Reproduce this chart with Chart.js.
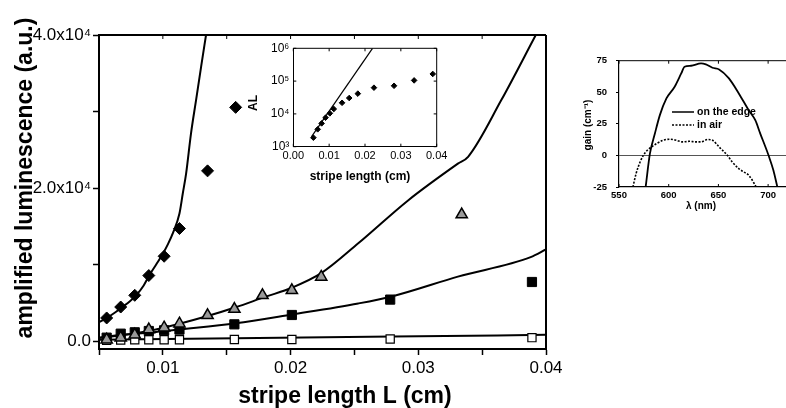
<!DOCTYPE html>
<html>
<head>
<meta charset="utf-8">
<script src="https://cdn.jsdelivr.net/npm/chart.js@4.4.0/dist/chart.umd.min.js"></script>
<style>
    body { margin: 0; width: 786px; height: 408px; overflow: hidden; background: #fff; position: relative; }
    canvas { position: absolute; }
</style>
</head>
<body>
<canvas id="principal" width="580" height="408" style="left:0;top:0"></canvas>
<canvas id="recuadro" width="220" height="160" style="left:240px;top:30px"></canvas>
<canvas id="ganancia" width="240" height="190" style="left:560px;top:30px"></canvas>
<script>
// ---- gráfico principal: luminiscencia amplificada vs longitud de franja ----
let xDiamantes = [0.0056, 0.0067, 0.0078, 0.0089, 0.0101, 0.0113, 0.0135, 0.0157];
let yDiamantes = [3050, 4480, 6010, 8590, 11110, 14730, 22260, 30550];
let xTriangulos = [0.0056, 0.0067, 0.0078, 0.0089, 0.0101, 0.0113, 0.0135, 0.0156, 0.0178, 0.0201, 0.0224, 0.0334];
let yTriangulos = [220, 480, 850, 1530, 1790, 2310, 3400, 4220, 6010, 6670, 8410, 16560];
let xCuadrados = [0.0056, 0.0067, 0.0078, 0.0089, 0.0101, 0.0113, 0.0156, 0.0201, 0.0278, 0.0389];
let yCuadrados = [480, 1000, 1180, 1350, 1440, 1530, 2220, 3440, 5450, 7750];
let yCuadradosVacios = [150, 180, 200, 200, 200, 200, 250, 250, 300, 480];

// curvas de ajuste
let xAjusteDiamantes = [0.005, 0.0056, 0.0062, 0.0068, 0.0074, 0.0079, 0.0085, 0.009, 0.0095, 0.01, 0.0104, 0.0108, 0.0113, 0.01156, 0.01182, 0.0122, 0.0126, 0.013, 0.01338];
let yAjusteDiamantes = [2500, 3050, 3700, 4450, 5200, 6000, 7300, 8800, 10100, 11450, 12700, 14200, 16700, 19300, 21900, 27100, 31500, 35900, 40000];
let xAjusteTriangulos = [0.005, 0.0068, 0.009, 0.0113, 0.0135, 0.0157, 0.018, 0.0201, 0.0224, 0.0253, 0.0292, 0.0331, 0.0339, 0.0365, 0.0392];
let yAjusteTriangulos = [450, 800, 1400, 2300, 3300, 4450, 5800, 7000, 8900, 12800, 18400, 23200, 24100, 31500, 40000];
let xAjusteCuadrados = [0.005, 0.0068, 0.009, 0.0113, 0.0157, 0.0201, 0.0253, 0.028, 0.0331, 0.0388, 0.04];
let yAjusteCuadrados = [480, 850, 1150, 1550, 2350, 3500, 4950, 5900, 8450, 11000, 12000];
let xAjusteVacios = [0.005, 0.0157, 0.028, 0.04];
let yAjusteVacios = [220, 400, 620, 850];

let ticksX = [0.005, 0.01, 0.015, 0.02, 0.025, 0.03, 0.035, 0.04];
let textosTicksX = ['', '0.01', '', '0.02', '', '0.03', '', '0.04'];
let ticksY = [0, 10000, 20000, 30000, 40000];
let textosTicksY = ['0.0', '', '2.0x10⁴', '', '4.0x10⁴'];

// ---- recuadro (escala log) ----
let xRecuadro = [0.0056, 0.0068, 0.0079, 0.009, 0.0102, 0.0113, 0.0136, 0.0156, 0.018, 0.0225, 0.0281, 0.0337, 0.0389];
let yRecuadro = [1885, 3390, 5140, 7680, 10400, 14100, 21800, 30500, 41500, 63000, 72000, 105000, 165000];
let xRectaRecuadro = [0.0051, 0.0221];
let yRectaRecuadro = [2020, 1000000];
let ticksXRecuadro = [0, 0.01, 0.02, 0.03, 0.04];
let textosXRecuadro = ['0.00', '0.01', '0.02', '0.03', '0.04'];
let ticksYRecuadro = [1000, 10000, 100000, 1000000];
let textosYRecuadro = ['10³', '10⁴', '10⁵', '10⁶'];

// ---- ganancia vs longitud de onda ----
let lambdaBorde = [576.8, 581.1, 586.1, 591.1, 597.7, 606, 612.6, 615.9, 622.5, 632.5, 637.4, 644, 650.7, 660.6, 670.5, 680.5, 687.1, 692.1, 700.4, 705.3, 709.3];
let gananciaBorde = [-25, 1.4, 17.3, 31.9, 45.1, 54.4, 64.9, 70.2, 71, 72.9, 72.1, 69.4, 68.1, 61, 49.1, 35.8, 27.9, 17.3, 0.1, -11.8, -25];
let lambdaAire = [564, 567.2, 571.2, 574.5, 578.5, 582.8, 587.8, 594.4, 601, 607.6, 614.3, 620.9, 627.5, 632.5, 639.1, 644, 650.7, 659, 663.9, 670.5, 675.5, 680.5, 687.1, 688];
let gananciaAire = [-25, -14.4, -5.2, 0.1, 4.1, 6.7, 9.4, 12, 12.8, 12, 10.7, 11.2, 10.7, 10.7, 12.6, 12, 6.7, 0.1, -5.2, -10.5, -13.1, -15.7, -23.7, -25];
let ticksLambda = [550, 600, 650, 700];
let ticksGanancia = [-25, 0, 25, 50, 75];

let fuente = "'Liberation Sans', Arial, sans-serif";

function puntos(xs, ys) {
    return xs.map((x, i) => ({ x: x, y: ys[i] }));
}

// marco, ticks internos, títulos y leyenda dibujados a mano
let pluginMarco = {
    id: 'marco',
    afterDraw(chart, args, opts) {
        let ctx = chart.ctx;
        let a = chart.chartArea;
        ctx.save();
        ctx.strokeStyle = '#000';
        ctx.lineWidth = opts.ancho;
        ctx.beginPath();
        ctx.moveTo(a.left, a.top);
        ctx.lineTo(a.right, a.top);
        if (opts.derecha) {
            ctx.moveTo(a.right, a.top);
            ctx.lineTo(a.right, a.bottom);
        }
        ctx.stroke();

        let int = opts.internos || {};
        ctx.lineWidth = 1;
        ctx.beginPath();
        chart.scales.x.ticks.forEach(t => {
            let px = chart.scales.x.getPixelForValue(t.value);
            if (int.arriba) { ctx.moveTo(px, a.top); ctx.lineTo(px, a.top + int.arriba); }
            if (int.abajo) { ctx.moveTo(px, a.bottom); ctx.lineTo(px, a.bottom - int.abajo); }
        });
        chart.scales.y.ticks.forEach(t => {
            let py = chart.scales.y.getPixelForValue(t.value);
            if (int.izquierda) { ctx.moveTo(a.left, py); ctx.lineTo(a.left + int.izquierda, py); }
            if (int.derecha) { ctx.moveTo(a.right, py); ctx.lineTo(a.right - int.derecha, py); }
        });
        ctx.stroke();

        ctx.fillStyle = '#000';
        ctx.textAlign = 'center';
        ctx.textBaseline = 'middle';
        (opts.textos || []).forEach(t => {
            ctx.save();
            ctx.translate(t.x, t.y);
            if (t.girado) ctx.rotate(-Math.PI / 2);
            ctx.font = t.fuente;
            ctx.fillText(t.texto, 0, 0);
            ctx.restore();
        });

        (opts.leyenda || []).forEach(l => {
            ctx.save();
            ctx.lineWidth = l.ancho;
            ctx.setLineDash(l.guion);
            ctx.beginPath();
            ctx.moveTo(l.x, l.y);
            ctx.lineTo(l.x + 22, l.y);
            ctx.stroke();
            ctx.setLineDash([]);
            ctx.font = 'bold 10.5px ' + fuente;
            ctx.textAlign = 'left';
            ctx.fillText(l.texto, l.x + 25, l.y);
            ctx.restore();
        });
        ctx.restore();
    }
};

function curva(xs, ys, ancho, guion) {
    return {
        data: puntos(xs, ys), showLine: true, pointRadius: 0,
        borderColor: '#000', borderWidth: ancho, borderDash: guion || [],
        cubicInterpolationMode: 'monotone', fill: false
    };
}

function marcadores(xs, ys, estilo, radio, relleno, borde) {
    return {
        data: puntos(xs, ys), showLine: false, pointStyle: estilo, pointRadius: radio,
        pointBackgroundColor: relleno, pointBorderColor: '#000', pointBorderWidth: borde, clip: false
    };
}

new Chart(document.getElementById('principal'), {
    type: 'scatter',
    data: {
        datasets: [
            marcadores(xDiamantes, yDiamantes, 'rectRot', 6, '#000', 1),
            marcadores(xTriangulos, yTriangulos, 'triangle', 6.5, '#9a9a9a', 1.5),
            marcadores(xCuadrados, yCuadrados, 'rect', 6.5, '#000', 1),
            marcadores(xCuadrados, yCuadradosVacios, 'rect', 5.8, '#fff', 1.2),
            curva(xAjusteDiamantes, yAjusteDiamantes, 2),
            curva(xAjusteTriangulos, yAjusteTriangulos, 2),
            curva(xAjusteCuadrados, yAjusteCuadrados, 2),
            curva(xAjusteVacios, yAjusteVacios, 2)
        ]
    },
    options: {
        responsive: false, animation: false,
        layout: { padding: { left: 0, top: 35, right: 34, bottom: 0 } },
        plugins: {
            legend: { display: false }, tooltip: { enabled: false },
            marco: {
                ancho: 2, derecha: true, internos: { arriba: 4 },
                textos: [
                    { texto: 'amplified luminescence (a.u.)', x: 26, y: 178, girado: true, fuente: 'bold 23px ' + fuente },
                    { texto: 'stripe length L (cm)', x: 345, y: 397, fuente: 'bold 23px ' + fuente }
                ]
            }
        },
        scales: {
            x: {
                type: 'linear', min: 0.005, max: 0.04,
                afterFit: s => { s.height = 59; },
                afterBuildTicks: s => { s.ticks = ticksX.map(v => ({ value: v })); },
                ticks: { callback: (v, i) => textosTicksX[i], autoSkip: false, maxRotation: 0, padding: 3, color: '#000', font: { size: 17, family: fuente } },
                grid: { drawOnChartArea: false, tickLength: 6, tickColor: '#000', tickWidth: 1.5 },
                border: { color: '#000', width: 2 }
            },
            y: {
                type: 'linear', min: -1000, max: 40000,
                afterFit: s => { s.width = 99; },
                afterBuildTicks: s => { s.ticks = ticksY.map(v => ({ value: v })); },
                ticks: { callback: (v, i) => textosTicksY[i], autoSkip: false, padding: 2, color: '#000', font: { size: 17, family: fuente } },
                grid: { drawOnChartArea: false, tickLength: 6, tickColor: '#000', tickWidth: 1.5 },
                border: { color: '#000', width: 2 }
            }
        }
    },
    plugins: [pluginMarco]
});

new Chart(document.getElementById('recuadro'), {
    type: 'scatter',
    data: {
        datasets: [
            marcadores(xRecuadro, yRecuadro, 'rectRot', 2.8, '#000', 1),
            { data: puntos(xRectaRecuadro, yRectaRecuadro), showLine: true, pointRadius: 0, borderColor: '#000', borderWidth: 1.2 }
        ]
    },
    options: {
        responsive: false, animation: false,
        layout: { padding: { left: 0, top: 18.3, right: 23.3, bottom: 0 } },
        plugins: {
            legend: { display: false }, tooltip: { enabled: false },
            marco: {
                ancho: 1, derecha: true, internos: { arriba: 3, abajo: 3, izquierda: 3, derecha: 3 },
                textos: [
                    { texto: 'AL', x: 14, y: 73, girado: true, fuente: 'bold 12px ' + fuente },
                    { texto: 'stripe length (cm)', x: 120, y: 147, fuente: 'bold 12px ' + fuente }
                ]
            }
        },
        scales: {
            x: {
                type: 'linear', min: 0, max: 0.04,
                afterFit: s => { s.height = 43.3; },
                afterBuildTicks: s => { s.ticks = ticksXRecuadro.map(v => ({ value: v })); },
                ticks: { callback: (v, i) => textosXRecuadro[i], autoSkip: false, maxRotation: 0, padding: 3, color: '#000', font: { size: 11, family: fuente } },
                grid: { drawOnChartArea: false, drawTicks: false },
                border: { color: '#000', width: 1 }
            },
            y: {
                type: 'logarithmic', min: 1000, max: 1000000,
                afterFit: s => { s.width = 53.3; },
                afterBuildTicks: s => { s.ticks = ticksYRecuadro.map(v => ({ value: v })); },
                ticks: { callback: (v, i) => textosYRecuadro[i], autoSkip: false, padding: 4, color: '#000', font: { size: 12, family: fuente } },
                grid: { drawOnChartArea: false, drawTicks: false },
                border: { color: '#000', width: 1 }
            }
        }
    },
    plugins: [pluginMarco]
});

new Chart(document.getElementById('ganancia'), {
    type: 'scatter',
    data: {
        datasets: [
            curva(lambdaBorde, gananciaBorde, 1.8),
            curva(lambdaAire, gananciaAire, 1.6, [2, 1.5])
        ]
    },
    options: {
        responsive: false, animation: false,
        layout: { padding: { left: 0, top: 30.7, right: 12, bottom: 0 } },
        plugins: {
            legend: { display: false }, tooltip: { enabled: false },
            marco: {
                ancho: 1, derecha: false, internos: { arriba: 3, abajo: 3 },
                textos: [
                    { texto: 'gain (cm⁻¹)', x: 28, y: 95, girado: true, fuente: 'bold 10px ' + fuente },
                    { texto: 'λ (nm)', x: 141, y: 176.5, fuente: 'bold 10px ' + fuente }
                ],
                leyenda: [
                    { texto: 'on the edge', x: 112, y: 82, ancho: 1.5, guion: [] },
                    { texto: 'in air', x: 112, y: 95, ancho: 1.5, guion: [2, 1.5] }
                ]
            }
        },
        scales: {
            x: {
                type: 'linear', min: 550, max: 720,
                afterFit: s => { s.height = 33; },
                afterBuildTicks: s => { s.ticks = ticksLambda.map(v => ({ value: v })); },
                ticks: { autoSkip: false, maxRotation: 0, padding: 3, color: '#000', font: { size: 9.5, weight: 'bold', family: fuente } },
                grid: { drawOnChartArea: false, drawTicks: false },
                border: { color: '#000', width: 1.2 }
            },
            y: {
                type: 'linear', min: -25, max: 75,
                afterFit: s => { s.width = 59; },
                afterBuildTicks: s => { s.ticks = ticksGanancia.map(v => ({ value: v })); },
                ticks: { autoSkip: false, padding: 9, color: '#000', font: { size: 9.5, weight: 'bold', family: fuente } },
                grid: {
                    color: c => (c.tick && c.tick.value === 0) ? '#555' : 'rgba(0,0,0,0)',
                    lineWidth: 1, tickLength: 3, tickColor: '#000'
                },
                border: { color: '#000', width: 1.2 }
            }
        }
    },
    plugins: [pluginMarco]
});
</script>
</body>
</html>
